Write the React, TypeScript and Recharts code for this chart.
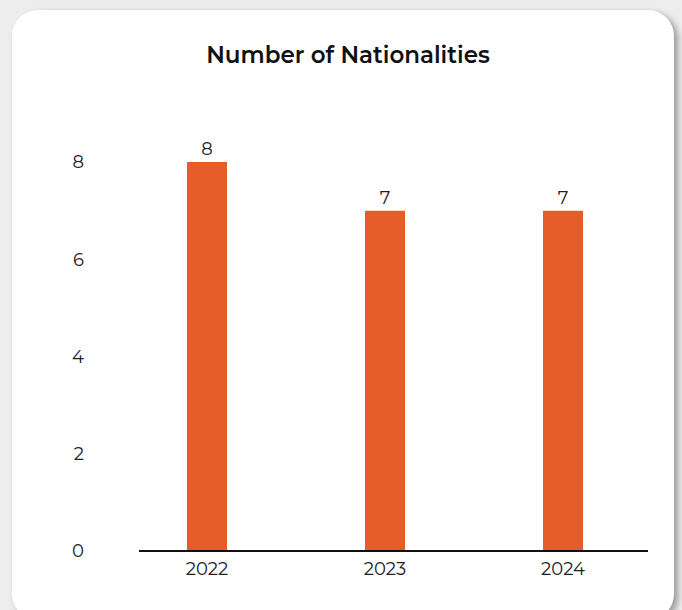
import { BarChart, Bar, XAxis, YAxis, LabelList, ReferenceLine } from "recharts";

const years = ["2022", "2023", "2024"];
const nationalities = [8, 7, 7];
const yTicks = [0, 2, 4, 6, 8];

const data = years.map((year, i) => ({ year, value: nationalities[i] }));

const BAR_COLOR = "#e65d2a";
const FONT = "Montserrat, 'Open Sans', Inter, sans-serif";

// the baseline in the original is a bit shorter than the category range
const BaseLine = (props: { x1?: number; y1?: number; x2?: number; y2?: number }) => {
  const { x1 = 0, y1 = 0, x2 = 0 } = props;
  return <line x1={x1 + 21} y1={y1} x2={x2 - 4} y2={y1} stroke="#111" strokeWidth={2} />;
};

export default function App() {
  return (
    <div
      style={{
        position: "absolute",
        left: 0,
        top: 0,
        width: 682,
        height: 610,
        background: "#ecedec",
        overflow: "hidden",
        fontFamily: FONT,
      }}
    >
      <div
        style={{
          position: "absolute",
          left: 12,
          top: 10,
          width: 662,
          height: 610,
          background: "#fff",
          borderRadius: 26,
          boxShadow: "4px 3px 6px rgba(0,0,0,0.35)",
        }}
      />
      <div
        style={{
          position: "absolute",
          left: 0,
          width: 696,
          top: 40,
          lineHeight: "30px",
          textAlign: "center",
          fontWeight: 600,
          fontSize: 23,
          color: "#111",
        }}
      >
        Number of Nationalities
      </div>
      <div style={{ position: "absolute", left: 0, top: 0 }}>
        <BarChart
          width={682}
          height={610}
          data={data}
          margin={{ top: 162, right: 30, bottom: 29, left: 58 }}
          barSize={40}
        >
          <XAxis
            dataKey="year"
            axisLine={false}
            tickLine={false}
            tickSize={0}
            tickMargin={11}
            tick={{ fill: "#222", fontSize: 18, fontFamily: FONT }}
          />
          <YAxis
            width={60}
            domain={[0, 8]}
            ticks={yTicks}
            axisLine={false}
            tickLine={false}
            tickSize={0}
            tickMargin={34}
            tick={{ fill: "#222", fontSize: 18, fontFamily: FONT }}
          />
          <Bar dataKey="value" fill={BAR_COLOR} isAnimationActive={false}>
            <LabelList
              dataKey="value"
              position="top"
              offset={7}
              fill="#222"
              fontSize={18}
              fontFamily={FONT}
            />
          </Bar>
          <ReferenceLine y={0} shape={BaseLine} />
        </BarChart>
      </div>
    </div>
  );
}
